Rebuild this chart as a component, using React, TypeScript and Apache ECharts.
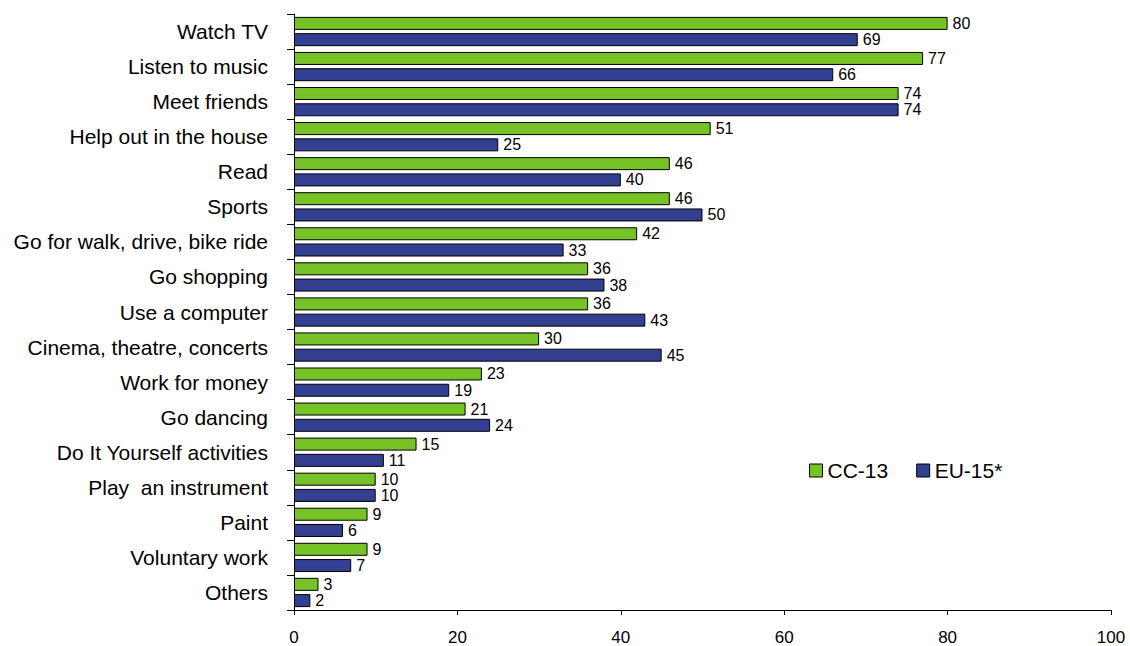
import React, { useEffect, useRef } from "react";
import * as echarts from "echarts";

const categories = [
  "Watch TV",
  "Listen to music",
  "Meet friends",
  "Help out in the house",
  "Read",
  "Sports",
  "Go for walk, drive, bike ride",
  "Go shopping",
  "Use a computer",
  "Cinema, theatre, concerts",
  "Work for money",
  "Go dancing",
  "Do It Yourself activities",
  "Play  an instrument",
  "Paint",
  "Voluntary work",
  "Others",
];

const cc13 = [80, 77, 74, 51, 46, 46, 42, 36, 36, 30, 23, 21, 15, 10, 9, 9, 3];
const eu15 = [69, 66, 74, 25, 40, 50, 33, 38, 43, 45, 19, 24, 11, 10, 6, 7, 2];

const xTicks = { min: 0, max: 100, interval: 20 };

const GREEN = "#77C226";
const BLUE = "#333F91";
const FONT = "'Liberation Sans', Arial, sans-serif";

export default function App() {
  const ref = useRef<HTMLDivElement>(null);

  useEffect(() => {
    if (!ref.current) return;
    const chart = echarts.init(ref.current, null, { renderer: "svg" });
    const label = {
      show: true,
      position: "right" as const,
      distance: 5,
      color: "#000",
      fontFamily: FONT,
      fontSize: 16,
      lineHeight: 15,
    };
    chart.setOption({
      animation: false,
      backgroundColor: "#fff",
      grid: { left: 294, right: 19, top: 14, bottom: 35, containLabel: false },
      legend: {
        left: 804,
        top: 455,
        itemWidth: 13,
        itemHeight: 13,
        itemGap: 28,
        icon: "rect",
        textStyle: { fontFamily: FONT, fontSize: 21, color: "#000" },
        data: [
          { name: "CC-13", itemStyle: { color: GREEN, borderColor: "#000", borderWidth: 1 } },
          { name: "EU-15*", itemStyle: { color: BLUE, borderColor: "#000", borderWidth: 1 } },
        ],
      },
      xAxis: {
        type: "value",
        min: xTicks.min,
        max: xTicks.max,
        interval: xTicks.interval,
        splitLine: { show: false },
        axisLine: { show: true, lineStyle: { color: "#000", width: 1 } },
        axisTick: { show: true, length: 5, lineStyle: { color: "#000" } },
        axisLabel: { color: "#000", fontFamily: FONT, fontSize: 17, margin: 19 },
      },
      yAxis: {
        type: "category",
        inverse: true,
        data: categories,
        axisLine: { show: true, lineStyle: { color: "#000", width: 1 } },
        axisTick: { show: true, length: 7, lineStyle: { color: "#000" } },
        axisLabel: { color: "#000", fontFamily: FONT, fontSize: 21, margin: 26 },
      },
      series: [
        {
          name: "CC-13",
          type: "bar",
          data: cc13,
          barWidth: 13,
          barGap: "25%",
          itemStyle: { color: GREEN, borderColor: "#000", borderWidth: 1 },
          label,
        },
        {
          name: "EU-15*",
          type: "bar",
          data: eu15,
          barWidth: 13,
          barGap: "25%",
          itemStyle: { color: BLUE, borderColor: "#000", borderWidth: 1 },
          label,
        },
      ],
    });
    return () => chart.dispose();
  }, []);

  return <div ref={ref} style={{ width: 1130, height: 646, position: "absolute", left: 0, top: 0 }} />;
}
